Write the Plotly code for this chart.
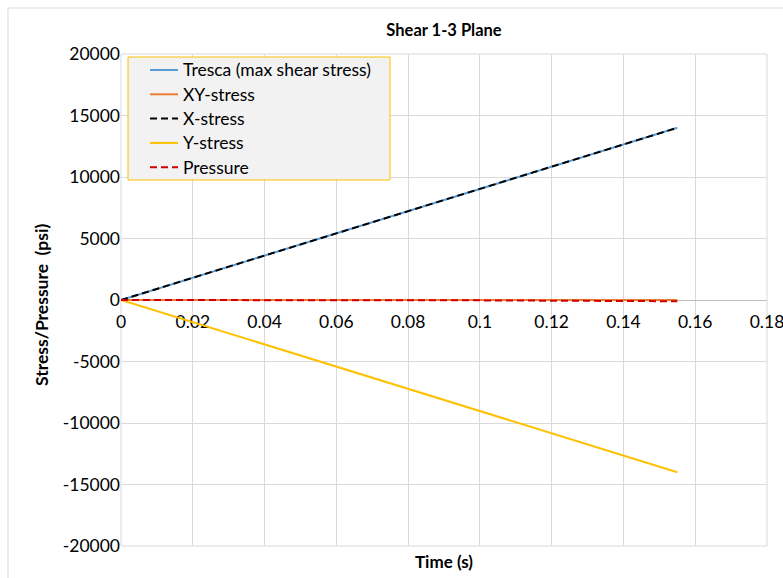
import plotly.graph_objects as go

# Time history for the shear 1-3 plane load case
time_s = [0.0, 0.05, 0.10, 0.155]
tresca = [0, 4520, 9030, 14000]
xy_stress = [0, 0, 0, 0]
x_stress = [0, 4520, 9030, 14000]
y_stress = [0, -4520, -9030, -14000]
pressure = [0, -10, -30, -100]

series_names = ["Tresca (max shear stress)", "XY-stress", "X-stress", "Y-stress", "Pressure"]
series_values = [tresca, xy_stress, x_stress, y_stress, pressure]
series_colors = ["#5b9bd5", "#ed7d31", "#000000", "#ffc000", "#d00000"]
series_dash = ["solid", "solid", "7px,4px", "solid", "7px,4px"]

x_ticks = [0, 0.02, 0.04, 0.06, 0.08, 0.1, 0.12, 0.14, 0.16, 0.18]
y_ticks = [-20000, -15000, -10000, -5000, 0, 5000, 10000, 15000, 20000]

FONT = "Lato"
GRID = "#d9d9d9"
TICK_SIZE = 17.5

# Plot area in pixels (for placing the boxed legend)
PL, PT, PW, PH = 121, 54, 646, 492


def px_to_paper(px, py):
    return (px - PL) / PW, (PT + PH - py) / PH


fig = go.Figure()
for name, vals, color, dash in zip(series_names, series_values, series_colors, series_dash):
    fig.add_trace(go.Scatter(x=time_s, y=vals, mode="lines", name=name, showlegend=False,
                             line=dict(color=color, width=2, dash=dash)))

fig.update_layout(
    width=783, height=578,
    margin=dict(l=PL, r=783 - PL - PW, t=PT, b=578 - PT - PH, autoexpand=False),
    paper_bgcolor="white", plot_bgcolor="white",
    font=dict(family=FONT, size=TICK_SIZE, color="#000000"),
    showlegend=False,
    xaxis=dict(range=[0, 0.18], tickvals=x_ticks,
               ticktext=[("%g" % v) for v in x_ticks],
               showgrid=True, gridcolor=GRID, gridwidth=1, zeroline=False,
               showline=True, linecolor="#bfbfbf", linewidth=1,
               anchor="free", position=0.5, ticks="", automargin=False,
               layer="below traces", ticklabelstandoff=6, ticklabeloverflow="allow",
               tickfont=dict(family=FONT, size=TICK_SIZE)),
    yaxis=dict(range=[-20000, 20000], tickvals=y_ticks,
               ticktext=[str(v) for v in y_ticks],
               showgrid=True, gridcolor=GRID, gridwidth=1, zeroline=False,
               showline=False, ticks="", automargin=False,
               tickfont=dict(family=FONT, size=TICK_SIZE)),
    title=dict(text="<b>Shear 1-3 Plane</b>", x=0.5, xref="paper", xanchor="center",
               y=1 - 30 / 578, yref="container", yanchor="middle",
               font=dict(family=FONT, size=16.5)),
)

# Plot-area frame and outer chart border
fig.add_shape(type="rect", xref="paper", yref="paper", x0=0, y0=0, x1=1, y1=1,
              line=dict(color=GRID, width=1), layer="below")
bx0, by0 = px_to_paper(8, 8)
fig.add_shape(type="line", xref="paper", yref="paper", x0=bx0, y0=by0, x1=1.2, y1=by0,
              line=dict(color=GRID, width=1))
fig.add_shape(type="line", xref="paper", yref="paper", x0=bx0, y0=by0, x1=bx0, y1=-0.2,
              line=dict(color=GRID, width=1))

# Boxed legend in the upper-left corner of the plot
lx0, ly0 = px_to_paper(128, 57)
lx1, ly1 = px_to_paper(390, 180)
fig.add_shape(type="rect", xref="paper", yref="paper", x0=lx0, y0=ly0, x1=lx1, y1=ly1,
              fillcolor="#f2f2f2", line=dict(color="#ffc000", width=1), layer="above")
for i, (name, color, dash) in enumerate(zip(series_names, series_colors, series_dash)):
    row_y = 70 + i * 24.3
    sx0, sy = px_to_paper(150, row_y)
    sx1, _ = px_to_paper(178, row_y)
    tx, _ = px_to_paper(181, row_y)
    fig.add_shape(type="line", xref="paper", yref="paper", x0=sx0, y0=sy, x1=sx1, y1=sy,
                  line=dict(color=color, width=2, dash=dash), layer="above")
    fig.add_annotation(text=name, xref="paper", yref="paper", x=tx, y=sy,
                       xanchor="left", yanchor="middle", showarrow=False,
                       font=dict(family=FONT, size=17.5, color="#000000"))

fig.add_annotation(text="<b>Time (s)</b>", xref="paper", yref="paper", x=0.5, y=-15 / PH,
                   xanchor="center", yanchor="middle", showarrow=False,
                   font=dict(family=FONT, size=17))
fig.add_annotation(text="<b>Stress/Pressure  (psi)</b>", xref="paper", yref="paper",
                   x=-80 / PW, y=(PT + PH - 305) / PH, xanchor="center", yanchor="middle",
                   textangle=-90, showarrow=False, font=dict(family=FONT, size=17.5))

fig.write_html("out.html")
